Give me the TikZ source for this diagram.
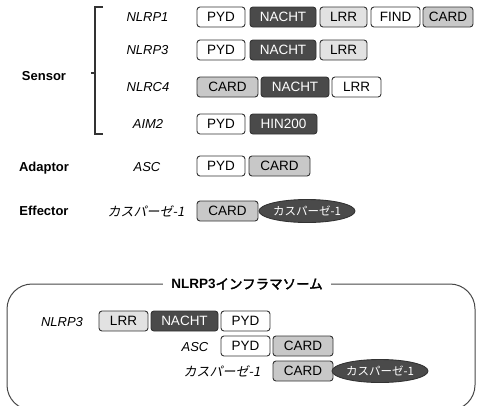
\documentclass[tikz,border=0pt]{standalone}
\usepackage{fontspec}
\setmainfont{Liberation Sans}
\newfontfamily\cjk{Noto Sans CJK JP}
\newfontfamily\cjki[FakeSlant=0.2]{Noto Sans CJK JP}
\newfontfamily\cjkb[FakeBold=2.5]{Noto Sans CJK JP}
\usetikzlibrary{shapes.geometric}
\definecolor{darkfill}{HTML}{4A4A4A}
\definecolor{lrrfill}{HTML}{E2E2E2}
\definecolor{cardfill}{HTML}{C8C8C8}
\definecolor{edge}{HTML}{333333}
\tikzset{
  dom/.style={draw=edge, line width=0.9pt, rounded corners=3pt, minimum height=20pt, inner sep=0pt,
    font=\fontsize{13.5}{14}\selectfont, text height=9.5pt, text depth=0pt},
  wbox/.style={dom, fill=white},
  dbox/.style={dom, fill=darkfill, text=white},
  lbox/.style={dom, fill=lrrfill},
  cbox/.style={dom, fill=cardfill},
  casp/.style={ellipse, draw=edge, line width=0.9pt, fill=darkfill, text=white, minimum width=90pt,
    minimum height=23pt, inner sep=0pt, font=\cjk\fontsize{11.5}{12}\selectfont},
  lab/.style={font=\itshape\fontsize{13}{14}\selectfont, inner sep=0pt},
  jlab/.style={font=\cjki\fontsize{13}{14}\selectfont, inner sep=0pt},
  cat/.style={font=\bfseries\fontsize{13}{14}\selectfont, inner sep=0pt},
}
\begin{document}
\begin{tikzpicture}[x=1pt,y=-1pt]
\useasboundingbox (0,0) rectangle (482,405);
% category labels
\node[cat] (sensor) at (44,76) {Sensor};
\node[cat] (adaptor) at (44,168) {Adaptor};
\node[cat] (effector) at (44,211) {Effector};
% bracket
\coordinate (bt) at (103,7);
\coordinate (bb) at (103,134);
\coordinate (bm) at (91,73);
\draw[line width=1.2pt, edge] (bt) -- (95,7) -- (95,134) -- (bb);
\draw[line width=1.2pt, edge] (95,73) -- (bm);
% protein labels
\node[lab] (l1) at (147.5,17) {NLRP1};
\node[lab] (l2) at (147.5,50) {NLRP3};
\node[lab] (l3) at (148,87) {NLRC4};
\node[lab] (l4) at (148,124) {AIM2};
\node[lab] (l5) at (147,167) {ASC};
\node[jlab] (l6) at (146,211) {カスパーゼ-1};
% row 1
\node[wbox, minimum width=48pt] (a1) at (221,17) {PYD};
\node[dbox, minimum width=66pt] (a2) at (283,17) {NACHT};
\node[lbox, minimum width=47pt] (a3) at (343.5,17) {LRR};
\node[wbox, minimum width=49pt] (a4) at (395.5,17) {FIND};
\node[cbox, minimum width=50pt] (a5) at (448,17) {CARD};
% row 2
\node[wbox, minimum width=48pt] (b1) at (221,50) {PYD};
\node[dbox, minimum width=66pt] (b2) at (283,50) {NACHT};
\node[lbox, minimum width=47pt] (b3) at (343.5,50) {LRR};
% row 3
\node[cbox, minimum width=61pt] (c1) at (227.5,87) {CARD};
\node[dbox, minimum width=68pt] (c2) at (295,87) {NACHT};
\node[wbox, minimum width=49pt] (c3) at (356.5,87) {LRR};
% row 4
\node[wbox, minimum width=48pt] (d1) at (221,124) {PYD};
\node[dbox, minimum width=67pt] (d2) at (283.5,124) {HIN200};
% ASC
\node[wbox, minimum width=48pt] (e1) at (221,166) {PYD};
\node[cbox, minimum width=61pt] (e2) at (279.5,166) {CARD};
% effector
\node[cbox, minimum width=61pt] (f1) at (227.5,211) {CARD};
\node[casp] (f2) at (307,211) {カスパーゼ-1};
% inflammasome frame
\draw[edge!90, line width=1pt, rounded corners=25pt] (7,284) rectangle (475,410);
\node[fill=white, inner xsep=8pt, inner ysep=2pt, font=\fontsize{13.5}{14}\selectfont] (title) at (247,284) {\textbf{NLRP3}{\cjkb インフラマソーム}};
% inner rows
\node[lab] (m1) at (62,322) {NLRP3};
\node[lbox, minimum width=49pt] (g1) at (123.5,321) {LRR};
\node[dbox, minimum width=67pt] (g2) at (184.5,321) {NACHT};
\node[wbox, minimum width=49pt] (g3) at (245.5,321) {PYD};
\node[lab] (m2) at (195,347) {ASC};
\node[wbox, minimum width=49pt] (h1) at (245.5,346) {PYD};
\node[cbox, minimum width=60pt] (h2) at (303,346) {CARD};
\node[jlab] (m3) at (222,371) {カスパーゼ-1};
\node[cbox, minimum width=60pt] (i1) at (303,371) {CARD};
\node[casp] (i2) at (380,371) {カスパーゼ-1};
\end{tikzpicture}
\end{document}
